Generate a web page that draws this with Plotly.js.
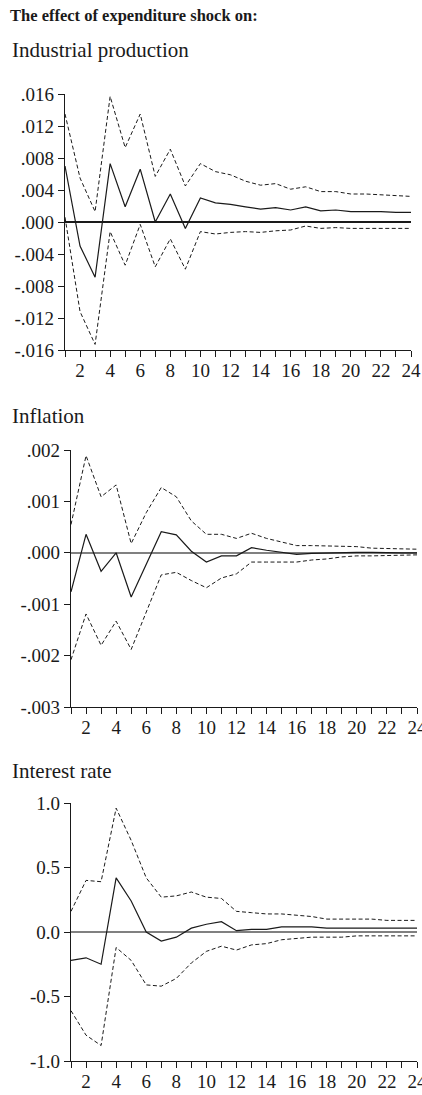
<!DOCTYPE html>
<html>
<head>
<meta charset="utf-8">
<script src="https://cdn.plot.ly/plotly-3.0.1.min.js"></script>
<style>
  html, body { margin: 0; padding: 0; background: #ffffff; }
  #chart { width: 422px; height: 1095px; }
</style>
</head>
<body>
<div id="chart"></div>
<script>
// Impulse responses to an expenditure shock, horizon 1..24
const periods = [1,2,3,4,5,6,7,8,9,10,11,12,13,14,15,16,17,18,19,20,21,22,23,24];

// Industrial production: response and confidence bands
const ipResp  = [0.0070, -0.0030, -0.0069, 0.0073, 0.0019, 0.0066, 0.0000, 0.0035, -0.0008, 0.0030, 0.0024, 0.0022, 0.0019, 0.0016, 0.0018, 0.0015, 0.0019, 0.0014, 0.0015, 0.0013, 0.0013, 0.0013, 0.0012, 0.0012];
const ipUpper = [0.0135, 0.0055, 0.0013, 0.0157, 0.0093, 0.0135, 0.0057, 0.0091, 0.0045, 0.0073, 0.0063, 0.0059, 0.0051, 0.0046, 0.0048, 0.0041, 0.0044, 0.0038, 0.0038, 0.0035, 0.0035, 0.0034, 0.0033, 0.0032];
const ipLower = [0.0006, -0.0112, -0.0153, -0.0012, -0.0054, -0.0003, -0.0056, -0.0021, -0.0059, -0.0012, -0.0015, -0.0013, -0.0012, -0.0013, -0.0011, -0.0010, -0.0005, -0.0008, -0.0007, -0.0008, -0.0008, -0.0008, -0.0008, -0.0008];

// Inflation
const infResp  = [-0.00076, 0.00036, -0.00036, 0.00000, -0.00086, -0.00022, 0.00041, 0.00035, 0.00003, -0.00018, -0.00006, -0.00006, 0.00010, 0.00005, 0.00001, -0.00003, -0.00001, 0.00000, 0.00001, 0.00001, 0.00001, 0.00000, 0.00000, 0.00000];
const infUpper = [0.00055, 0.00189, 0.00109, 0.00132, 0.00018, 0.00078, 0.00127, 0.00109, 0.00062, 0.00036, 0.00036, 0.00028, 0.00038, 0.00028, 0.00021, 0.00014, 0.00014, 0.00013, 0.00013, 0.00012, 0.00009, 0.00008, 0.00007, 0.00007];
const infLower = [-0.00208, -0.00119, -0.00180, -0.00133, -0.00188, -0.00115, -0.00043, -0.00038, -0.00054, -0.00068, -0.00049, -0.00041, -0.00018, -0.00018, -0.00018, -0.00018, -0.00014, -0.00012, -0.00008, -0.00006, -0.00006, -0.00005, -0.00005, -0.00004];

// Interest rate
const irResp  = [-0.22, -0.20, -0.25, 0.42, 0.24, 0.00, -0.07, -0.04, 0.03, 0.06, 0.08, 0.01, 0.02, 0.02, 0.04, 0.04, 0.04, 0.03, 0.03, 0.03, 0.03, 0.03, 0.03, 0.03];
const irUpper = [0.16, 0.40, 0.39, 0.96, 0.71, 0.42, 0.27, 0.28, 0.31, 0.27, 0.26, 0.16, 0.15, 0.14, 0.14, 0.13, 0.12, 0.10, 0.10, 0.10, 0.10, 0.09, 0.09, 0.09];
const irLower = [-0.61, -0.80, -0.88, -0.12, -0.22, -0.41, -0.42, -0.36, -0.24, -0.15, -0.11, -0.14, -0.10, -0.09, -0.06, -0.05, -0.04, -0.04, -0.04, -0.03, -0.03, -0.03, -0.03, -0.03];

// Tick labels
const xTickVals = periods;
const xTickText = ["", "2", "", "4", "", "6", "", "8", "", "10", "", "12", "", "14", "", "16", "", "18", "", "20", "", "22", "", "24"];
const ipTickVals = [0.016, 0.012, 0.008, 0.004, 0, -0.004, -0.008, -0.012, -0.016];
const ipTickText = [".016", ".012", ".008", ".004", ".000", "-.004", "-.008", "-.012", "-.016"];
const infTickVals = [0.002, 0.001, 0, -0.001, -0.002, -0.003];
const infTickText = [".002", ".001", ".000", "-.001", "-.002", "-.003"];
const irTickVals = [1.0, 0.5, 0, -0.5, -1.0];
const irTickText = ["1.0", "0.5", "0.0", "-0.5", "-1.0"];

const titleText = "The effect of expenditure shock on:";
const panelTitles = ["Industrial production", "Inflation", "Interest rate"];

const W = 422, H = 1095;
const serif = "'Liberation Serif', 'Times New Roman', serif";
const ink = "#1a1a1a";

function px2x(p) { return p / W; }
function px2y(p) { return 1 - p / H; }

const solid = { color: ink, width: 1.2 };
const dashed = { color: ink, width: 1, dash: "4px,2.5px" };

function band(x, y, ax, line) {
  return { x: x, y: y, xaxis: ax.x, yaxis: ax.y, type: "scatter", mode: "lines",
           line: line, hoverinfo: "skip", showlegend: false };
}

const ax1 = { x: "x", y: "y" }, ax2 = { x: "x2", y: "y2" }, ax3 = { x: "x3", y: "y3" };
const traces = [
  band(periods, ipUpper, ax1, dashed), band(periods, ipLower, ax1, dashed), band(periods, ipResp, ax1, solid),
  band(periods, infUpper, ax2, dashed), band(periods, infLower, ax2, dashed), band(periods, infResp, ax2, solid),
  band(periods, irUpper, ax3, dashed), band(periods, irLower, ax3, dashed), band(periods, irResp, ax3, solid)
];

function xAxis(domain, anchor) {
  return {
    domain: domain, anchor: anchor, range: [1, 24],
    tickmode: "array", tickvals: xTickVals, ticktext: xTickText,
    ticks: "outside", ticklen: 6, tickwidth: 1, tickcolor: ink,
    ticklabelstandoff: -3, ticklabeloverflow: "allow",
    showline: true, linecolor: ink, linewidth: 1.2,
    showgrid: false, zeroline: false,
    tickfont: { family: serif, size: 19, color: ink }
  };
}
function yAxis(domain, anchor, range, vals, text, zc) {
  return {
    domain: domain, anchor: anchor, range: range,
    tickmode: "array", tickvals: vals, ticktext: text,
    ticks: "outside", ticklen: 6, tickwidth: 1, tickcolor: ink,
    showline: true, linecolor: ink, linewidth: 1.2,
    showgrid: false, zeroline: true, zerolinecolor: zc, zerolinewidth: 1.5,
    tickfont: { family: serif, size: 19, color: ink }
  };
}

const layout = {
  width: W, height: H, autosize: false,
  margin: { l: 0, r: 0, t: 0, b: 0 },
  paper_bgcolor: "#ffffff", plot_bgcolor: "#ffffff",
  showlegend: false,
  xaxis:  xAxis([px2x(65), px2x(411)], "y"),
  yaxis:  yAxis([px2y(350), px2y(94)], "x", [-0.016, 0.016], ipTickVals, ipTickText, ink),
  xaxis2: xAxis([px2x(71), px2x(417)], "y2"),
  yaxis2: yAxis([px2y(707), px2y(450)], "x2", [-0.003, 0.002], infTickVals, infTickText, "#808080"),
  xaxis3: xAxis([px2x(71), px2x(417)], "y3"),
  yaxis3: yAxis([px2y(1061), px2y(803)], "x3", [-1, 1], irTickVals, irTickText, "#808080"),
  annotations: [
    { text: "<b>" + titleText + "</b>", xref: "paper", yref: "paper", x: px2x(8), y: px2y(15),
      xanchor: "left", yanchor: "middle", showarrow: false, font: { family: serif, size: 16.5, color: ink } },
    { text: panelTitles[0], xref: "paper", yref: "paper", x: px2x(10), y: px2y(50),
      xanchor: "left", yanchor: "middle", showarrow: false, font: { family: serif, size: 21, color: ink } },
    { text: panelTitles[1], xref: "paper", yref: "paper", x: px2x(10), y: px2y(416),
      xanchor: "left", yanchor: "middle", showarrow: false, font: { family: serif, size: 21, color: ink } },
    { text: panelTitles[2], xref: "paper", yref: "paper", x: px2x(10), y: px2y(771),
      xanchor: "left", yanchor: "middle", showarrow: false, font: { family: serif, size: 21, color: ink } }
  ]
};

Plotly.newPlot("chart", traces, layout, { staticPlot: true, displayModeBar: false });
</script>
</body>
</html>
